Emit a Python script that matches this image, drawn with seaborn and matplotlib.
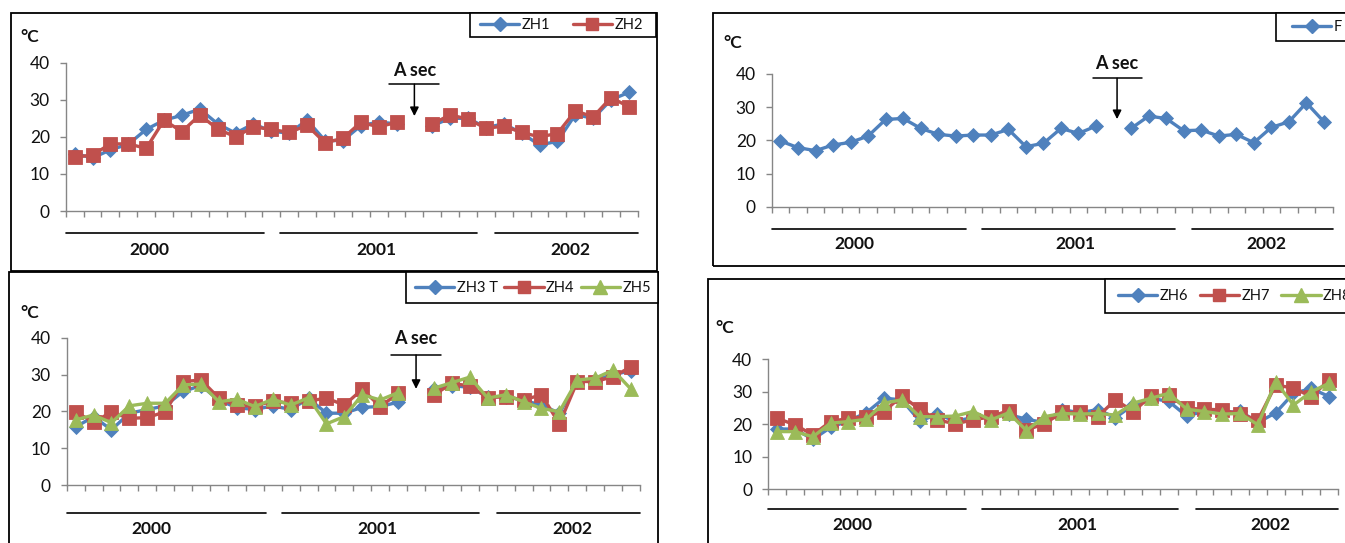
import numpy as np
import pandas as pd
import matplotlib
matplotlib.use("Agg")
import matplotlib.pyplot as plt
import matplotlib.transforms as mtransforms
from matplotlib.patches import Rectangle
from matplotlib.lines import Line2D
import seaborn as sns

nan = np.nan

# ---------------- data ----------------
years = ["2000", "2001", "2002"]
year_start = [0, 12, 24]
year_end = [11.1, 23.0, 32.0]
year_label_pos = [4.7, 17.35, 28.2]
n_months = 32
y_ticks = [0, 10, 20, 30, 40]

zh1 = [15.5, 14.3, 16.5, 18.0, 22.0, 24.5, 25.8, 27.5, 23.5, 21.0, 23.5, 21.5,
       21.0, 24.5, 19.0, 19.0, 23.0, 24.0, 23.5, nan, 23.0, 25.0, 25.0, 22.5,
       23.5, 21.0, 17.8, 18.8, 26.0, 25.0, 30.0, 32.0]
zh2 = [14.5, 15.1, 18.1, 18.1, 16.9, 24.5, 21.4, 25.9, 22.1, 20.0, 22.7, 22.0,
       21.2, 23.1, 18.4, 19.6, 23.9, 22.7, 23.9, nan, 23.5, 25.9, 24.8, 22.3,
       22.9, 21.2, 20.0, 20.9, 27.0, 25.4, 30.6, 28.1]
f_st = [19.8, 17.8, 16.9, 18.6, 19.4, 21.3, 26.3, 26.6, 23.6, 21.8, 21.3, 21.6,
        21.6, 23.3, 18.1, 19.1, 23.6, 22.1, 24.3, nan, 23.6, 27.3, 26.6, 22.9,
        23.1, 21.3, 21.8, 19.3, 23.9, 25.6, 31.3, 25.6]
zh3 = [15.8, 18.5, 15.0, 19.5, 20.5, 21.5, 25.4, 27.0, 23.0, 21.0, 20.5, 21.5,
       20.5, 23.5, 19.5, 19.5, 21.1, 21.3, 22.5, nan, 26.0, 27.0, 26.5, 24.0,
       24.0, 23.0, 21.7, 19.5, 28.0, 28.5, 30.0, 31.0]
zh4 = [19.7, 17.2, 19.7, 18.1, 18.3, 19.9, 28.1, 28.5, 23.6, 21.6, 21.4, 22.8,
       22.2, 22.8, 23.6, 21.7, 26.0, 21.3, 24.9, nan, 24.5, 27.6, 26.9, 23.7,
       24.0, 23.1, 24.5, 16.6, 28.1, 28.1, 29.4, 32.1]
zh5 = [17.7, 19.0, 16.9, 21.5, 22.2, 22.2, 27.2, 27.4, 22.6, 23.3, 21.3, 23.3,
       21.7, 23.7, 16.6, 18.6, 24.5, 23.1, 25.1, nan, 26.3, 27.8, 29.3, 23.6,
       24.5, 22.6, 20.8, 19.9, 28.5, 29.0, 31.2, 26.0]
zh6 = [18.5, 18.5, 15.3, 19.0, 21.0, 23.5, 28.0, 27.5, 21.0, 23.0, 21.0, 22.0,
       22.0, 23.0, 21.5, 20.5, 24.5, 23.5, 24.5, 22.0, 26.0, 28.0, 27.0, 22.5,
       24.0, 23.5, 24.0, 20.5, 23.5, 29.5, 31.0, 28.5]
zh7 = [21.8, 19.8, 16.7, 20.8, 21.8, 22.3, 23.9, 28.7, 24.6, 21.3, 20.1, 21.3,
       22.3, 24.2, 18.2, 20.1, 23.6, 23.6, 22.3, 27.5, 23.9, 28.7, 29.0, 24.9,
       24.6, 24.4, 23.1, 21.3, 32.1, 31.1, 28.5, 33.6]
zh8 = [17.7, 17.7, 16.1, 20.3, 20.8, 21.5, 26.5, 27.5, 22.3, 22.3, 22.5, 23.9,
       21.3, 23.5, 18.0, 22.3, 23.3, 23.1, 23.3, 22.8, 26.5, 28.0, 29.5, 24.6,
       23.9, 23.1, 23.3, 19.8, 33.1, 25.9, 30.0, 32.6]

# ---------------- style ----------------
sns.set_style("white")
plt.rcParams["font.family"] = ["Lato", "DejaVu Sans"]

W, H = 1345, 543
fig = plt.figure(figsize=(W / 100, H / 100), dpi=100)

BLUE, RED, GREEN = "#4F81BD", "#C0504D", "#9BBB59"
AXIS_GRAY = "#868686"
TXT = "#111111"
MK = {
    "blue": dict(color=BLUE, marker="D", ms=7.5),
    "red": dict(color=RED, marker="s", ms=9.5),
    "green": dict(color=GREEN, marker="^", ms=10),
}
LW = 2.4


def frac_rect(x0, y0, x1, y1):
    return [x0 / W, 1 - y1 / H, (x1 - x0) / W, (y1 - y0) / H]


panels = [
    dict(frame=(10.7, 12.7, 657, 270.7), axes=(65.7, 62.7, 637.9, 211),
         legbox=(470, 12.7, 656, 36.7), leg_x=480, colsp=1.55,
         series=[("ZH1", zh1, "blue"), ("ZH2", zh2, "red")],
         asec=(19.5, 38.0, 34.2, 25.6, 1.4), cel=(30, 37), yoff=(22.3, 39)),
    dict(frame=(712.7, 12.7, 1365, 265.7), axes=(771.7, 74, 1332.7, 206.7),
         legbox=(1276, 12.7, 1365, 40.7), leg_x=1292, colsp=1.0,
         series=[("F", f_st, "blue")],
         asec=(19.7, 43.2, 38.7, 26.4, 1.4), cel=(733, 43.3), yoff=(22.3, 37.6)),
    dict(frame=(8.7, 272.3, 658.3, 570), axes=(66.7, 337.7, 640, 485),
         legbox=(406, 272.3, 658.3, 303.3), leg_x=415, colsp=0.45,
         series=[("ZH3 T", zh3, "blue"), ("ZH4", zh4, "red"), ("ZH5", zh5, "green")],
         asec=(19.5, 39.9, 35.3, 26.1, 1.4), cel=(30, 313.3), yoff=(28.3, 44.3)),
    dict(frame=(707.7, 279.3, 1365, 570), axes=(768.3, 359.3, 1338, 489),
         legbox=(1105, 279.3, 1365, 313.3), leg_x=1118, colsp=0.8,
         series=[("ZH6", zh6, "blue"), ("ZH7", zh7, "red"), ("ZH8", zh8, "green")],
         asec=None, cel=(725, 328.3), yoff=(20.3, 36)),
]

x_pos = np.arange(n_months) + 0.5

for p in panels:
    # frame around each chart
    fx0, fy0, fx1, fy1 = p["frame"]
    fig.add_artist(Rectangle((fx0 / W, 1 - fy1 / H), (fx1 - fx0) / W, (fy1 - fy0) / H,
                             transform=fig.transFigure, fill=False,
                             edgecolor="black", linewidth=1.3, zorder=0))

    ax0, ay0, ax1, ay1 = p["axes"]
    ax = fig.add_axes(frac_rect(ax0, ay0, ax1, ay1))
    ax.patch.set_alpha(0)

    for label, vals, key in p["series"]:
        v = np.asarray(vals, dtype=float)
        seg = np.cumsum(np.isnan(v))
        df = pd.DataFrame({"month": x_pos, "temp": v, "seg": seg}).dropna()
        st = MK[key]
        sns.lineplot(data=df, x="month", y="temp", units="seg", estimator=None,
                     sort=False, color=st["color"], marker=st["marker"],
                     markersize=st["ms"], markeredgecolor=st["color"],
                     markeredgewidth=0.6, linewidth=LW, ax=ax, legend=False)

    ax.set_xlim(0, n_months)
    ax.set_ylim(0, 40)
    ax.set_xlabel("")
    ax.set_ylabel("")
    ax.set_xticks(np.arange(0, n_months + 1))
    ax.set_xticklabels([])
    ax.set_yticks(y_ticks)
    ax.set_yticklabels([str(t) for t in y_ticks])
    for s in ["top", "right"]:
        ax.spines[s].set_visible(False)
    for s in ["left", "bottom"]:
        ax.spines[s].set_color(AXIS_GRAY)
        ax.spines[s].set_linewidth(1.0)
    ax.tick_params(axis="both", direction="out", length=4.5, width=1.0,
                   color=AXIS_GRAY, labelsize=12.5, labelcolor=TXT,
                   left=True, bottom=True)
    ax.tick_params(axis="y", pad=7)

    # year lines and labels under the axis
    trans = mtransforms.blended_transform_factory(ax.transData, ax.transAxes)
    hpx = ay1 - ay0
    line_y = -p["yoff"][0] / hpx
    lab_y = -p["yoff"][1] / hpx
    for yr, s0, s1, xl in zip(years, year_start, year_end, year_label_pos):
        ax.plot([s0, s1], [line_y, line_y], color="black", lw=1.2,
                transform=trans, clip_on=False)
        ax.text(xl, lab_y, yr, transform=trans, ha="center", va="center",
                fontsize=12.5, fontweight="bold", color=TXT)

    # °C label
    cx, cy = p["cel"]
    fig.text(cx / W, 1 - cy / H, "°C", ha="center", va="center",
             fontsize=12.5, fontweight="bold", color=TXT)

    # "A sec" annotation
    if p["asec"] is not None:
        axc, ty, uy, tipy, half = p["asec"]
        ax.text(axc, ty, "A sec", ha="center", va="center", fontsize=13,
                fontweight="bold", color=TXT, clip_on=False)
        ax.plot([axc - half, axc + half], [uy, uy], color="black", lw=1.1,
                clip_on=False)
        ax.annotate("", xy=(axc, tipy), xytext=(axc, uy),
                    arrowprops=dict(arrowstyle="-|>", color="black", lw=1.1,
                                    mutation_scale=13, shrinkA=0, shrinkB=0),
                    annotation_clip=False)

    # legend box + legend
    lx0, ly0, lx1, ly1 = p["legbox"]
    fig.add_artist(Rectangle((lx0 / W, 1 - ly1 / H), (lx1 - lx0) / W, (ly1 - ly0) / H,
                             transform=fig.transFigure, facecolor="white",
                             edgecolor="black", linewidth=1.2, zorder=1))
    handles = []
    labels = []
    for label, vals, key in p["series"]:
        st = MK[key]
        handles.append(Line2D([], [], color=st["color"], marker=st["marker"],
                              markersize=st["ms"] * 0.95, markeredgecolor=st["color"],
                              lw=LW))
        labels.append(label)
    leg = fig.legend(handles, labels, loc="center left",
                     bbox_to_anchor=(p["leg_x"] / W, 1 - (ly0 + ly1) / 2 / H),
                     ncol=len(labels), frameon=False, fontsize=10.5,
                     handlelength=2.7, handletextpad=0.15,
                     columnspacing=p["colsp"], borderpad=0, borderaxespad=0)
    for t in leg.get_texts():
        t.set_color(TXT)
    leg.set_zorder(2)

fig.savefig("out.png", dpi=100)
